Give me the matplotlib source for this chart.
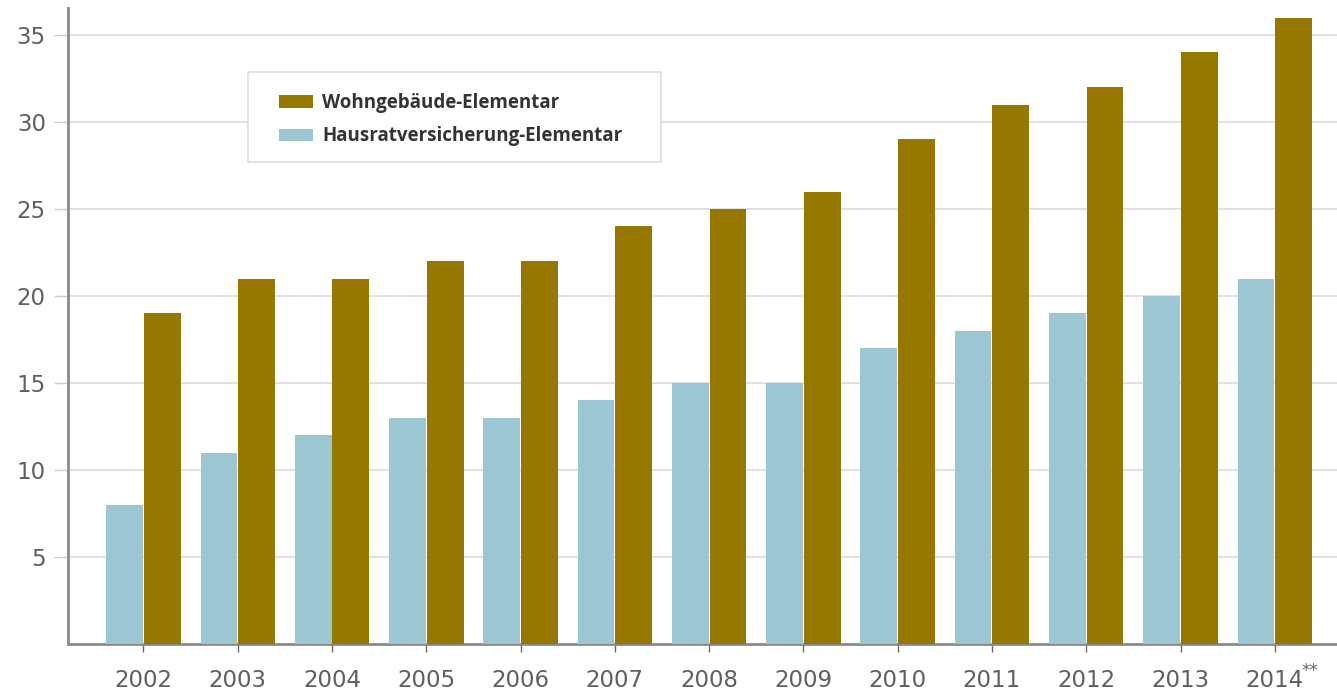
import matplotlib
matplotlib.use("Agg")
import matplotlib.pyplot as plt
import numpy as np
from matplotlib.patches import Patch, Rectangle

years = ["2002", "2003", "2004", "2005", "2006", "2007", "2008", "2009", "2010", "2011", "2012", "2013", "2014"]
wohngebaeude = [19, 21, 21, 22, 22, 24, 25, 26, 29, 31, 32, 34, 36]
hausrat = [8, 11, 12, 13, 13, 14, 15, 15, 17, 18, 19, 20, 21]
yticks = [5, 10, 15, 20, 25, 30, 35]
series_names = ["Wohngebäude-Elementar", "Hausratversicherung-Elementar"]

gold = "#967800"
blue = "#9DC6D3"
tickfont = {"family": "DejaVu Sans", "size": 16.5}

fig = plt.figure(figsize=(13.37, 6.94), dpi=100)
ax = fig.add_axes([0.0509, 0.072, 0.9491, 0.9165])

x = np.arange(len(years))
w = 0.39
ax.bar(x - 0.2, hausrat, width=w, color=blue, zorder=3)
ax.bar(x + 0.2, wohngebaeude, width=w, color=gold, zorder=3)

ax.set_xlim(-0.8, 12.66)
ax.set_ylim(0, 36.55)
ax.set_yticks(yticks)
ax.set_yticklabels([str(v) for v in yticks], color="#5f5f5f", **tickfont)
ax.set_xticks(x)
ax.set_xticklabels(years, color="#5f5f5f", **tickfont)
ax.tick_params(axis="y", length=10, color="#cccccc", width=1, pad=6)
ax.tick_params(axis="x", length=6, color="#666666", width=1, pad=12)
ax.yaxis.grid(True, color="#dcdcdc", linewidth=1.2, zorder=0)
ax.set_axisbelow(True)
for s in ["top", "right"]:
    ax.spines[s].set_visible(False)
for s in ["left", "bottom"]:
    ax.spines[s].set_color("#8a8a8a")
    ax.spines[s].set_linewidth(2)

ax.annotate("**", xy=(x[-1], 0), xycoords=("data", "axes fraction"),
            xytext=(19.5, -19.5), textcoords="offset points", fontsize=12,
            color="#5f5f5f", family="DejaVu Sans", ha="left", va="center")

# legend box
ax.add_patch(Rectangle((248 / 1337, (694 - 162) / 694), 413 / 1337, 90 / 694,
                       transform=fig.transFigure, facecolor="white",
                       edgecolor="#dddddd", linewidth=1.2, zorder=4, clip_on=False))
handles = [Patch(facecolor=gold, edgecolor="none"), Patch(facecolor=blue, edgecolor="none")]
leg = ax.legend(handles, series_names, loc="upper left",
                bbox_to_anchor=(279 / 1337, (694 - 93) / 694), bbox_transform=fig.transFigure,
                frameon=False, prop={"family": "Open Sans", "weight": "bold", "size": 13.5},
                handlelength=1.8, handleheight=0.64, borderpad=0, labelspacing=0.72,
                handletextpad=0.5, borderaxespad=0)
leg.set_zorder(6)
for t in leg.get_texts():
    t.set_color("#333333")

fig.savefig("out.png", dpi=100)
